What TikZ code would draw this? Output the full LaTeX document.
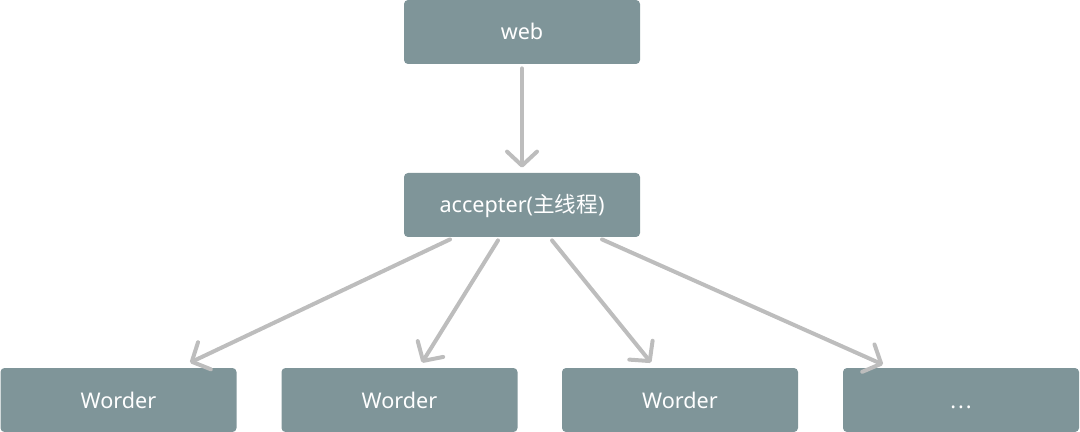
\documentclass[tikz,border=0pt]{standalone}
\usepackage{fontspec}
\setmainfont{Noto Sans}
\newfontfamily\cjk{Noto Sans CJK SC}
\usetikzlibrary{arrows.meta}
\definecolor{boxgray}{HTML}{7F9599}
\definecolor{arrowgray}{HTML}{BDBDBD}

\begin{document}
\begin{tikzpicture}[
  x=0.5pt, y=-0.5pt,
  box/.style={fill=boxgray, rounded corners=2pt, minimum width=118pt,
    minimum height=32pt, inner sep=0pt, text=white,
    text height=8.5pt, text depth=0.5pt,
    font=\fontsize{10.8}{12}\selectfont},
  link/.style={arrowgray, line width=2pt, line cap=round,
    -{Straight Barb[length=7pt, width=15pt, round]}}
]
  \useasboundingbox (0,0) rectangle (1080,432);

  % Top boxes
  \node[box] (web) at (522,32) {web};
  \node[box] (acc) at (522,205) {accepter({\cjk 主线程})};

  % Workers
  \node[box] (w1) at (118.5,400) {Worder};
  \node[box] (w2) at (399.5,400) {Worder};
  \node[box] (w3) at (680,400) {Worder};
  \node[box] (w4) at (961,400) {{.}\kern1pt{.}\kern1pt{.}};

  % Arrows
  \draw[link] ([yshift=-2pt]web.south) -- ([yshift=2.5pt]acc.north);
  \draw[link] ([xshift=-36pt,yshift=-1pt]acc.south) -- ([xshift=35.75pt,yshift=2.5pt]w1.north);
  \draw[link] ([xshift=-12pt,yshift=-1.5pt]acc.south) -- ([xshift=11.25pt,yshift=2.5pt]w2.north);
  \draw[link] ([xshift=15pt,yshift=-1.5pt]acc.south) -- ([xshift=-14.5pt,yshift=2.5pt]w3.north);
  \draw[link] ([xshift=40pt,yshift=-1pt]acc.south) -- ([xshift=-39pt,yshift=1.5pt]w4.north);
\end{tikzpicture}
\end{document}
